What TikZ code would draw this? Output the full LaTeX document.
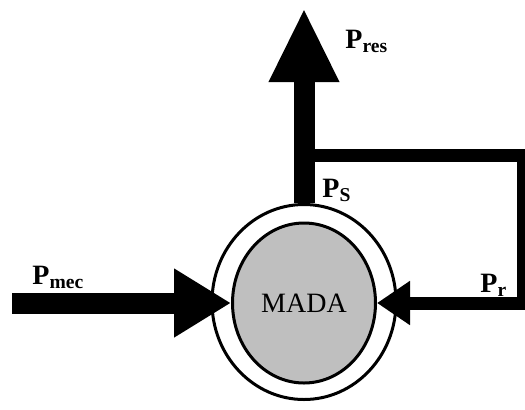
\documentclass[tikz,border=0pt]{standalone}
\usepackage{fontspec}
\setmainfont{Liberation Serif}
\usepackage{tikz}
\usetikzlibrary{arrows.meta,shapes.geometric,positioning}

\begin{document}
\begin{tikzpicture}[
    x=0.5pt, y=-0.5pt,
    ring/.style={ellipse, draw, line width=1.5pt, inner sep=0pt},
    flow/.style={line width=10.5pt, line join=miter},
    feed/.style={line width=6.5pt, line join=miter},
    lbl/.style={anchor=base west, inner sep=0pt, font=\fontsize{14}{17}\selectfont\bfseries}
]
\useasboundingbox (0,0) rectangle (525,409);

\node[ring, minimum width=92pt, minimum height=97.5pt] (stator) at (304,302) {};
\node[ring, fill=black!25, minimum width=71.5pt, minimum height=80pt, font=\fontsize{14}{16}\selectfont] (mada) at (304,303) {MADA};

\coordinate (ytop) at (0,8);
\coordinate (corner) at (523,155);
\coordinate (src) at (12,0);

\draw[flow, -{Triangle[length=37pt,width=32.5pt]}] (stator.north) -- (stator.north |- ytop);
\draw[feed, -{Triangle[length=16.5pt,width=21pt]}] (stator.north |- corner) -| (corner |- mada.east) -- (mada.east);
\draw[flow, -{Triangle[length=28.5pt,width=32.5pt]}] (src |- mada.west) -- (mada.west);

\node[lbl] (pres) at (345,48) {P\textsubscript{res}};
\node[lbl] (ps) at (322,197) {P\textsubscript{S}};
\node[lbl] (pmec) at (32,284) {P\textsubscript{mec}};
\node[lbl] (pr) at (480,292) {P\textsubscript{r}};
\end{tikzpicture}
\end{document}
